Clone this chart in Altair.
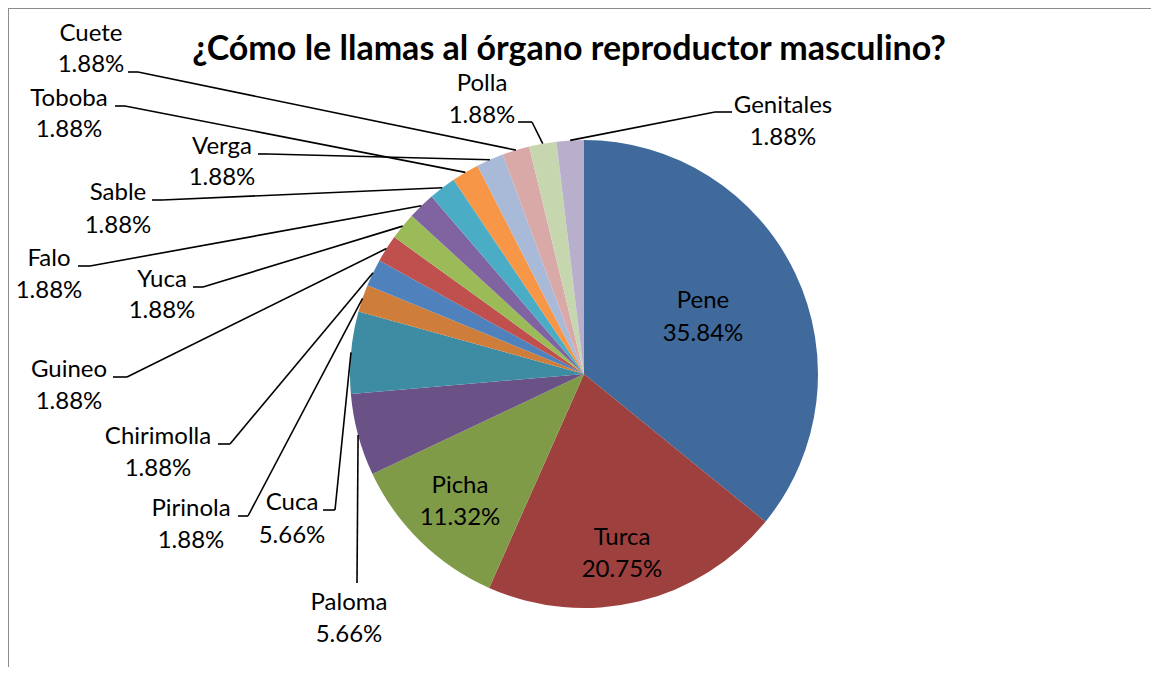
import altair as alt
import pandas as pd

# ---- data ----
names = ["Pene", "Turca", "Picha", "Paloma", "Cuca", "Pirinola", "Chirimolla",
         "Guineo", "Yuca", "Falo", "Sable", "Toboba", "Verga", "Cuete",
         "Polla", "Genitales"]
percents = [35.84, 20.75, 11.32, 5.66, 5.66, 1.88, 1.88, 1.88, 1.88, 1.88,
            1.88, 1.88, 1.88, 1.88, 1.88, 1.88]
title_text = "¿Cómo le llamas al órgano reproductor masculino?"

# ---- styles ----
colors = ["#416A9C", "#9D403E", "#7F9B48", "#6A5287", "#3E8CA3", "#CE7D3A",
          "#4F81BD", "#C0504D", "#9BBB59", "#8064A2", "#4BACC6", "#F79646",
          "#A9B9D8", "#D9A9A8", "#C6D7B0", "#B8AFCC"]
FONT = "Lato"
LABEL_SIZE = 24
TITLE_SIZE = 34

# ---- layout (page pixels) ----
M = 8                      # page margin
CX, CY, R = 584, 374, 234  # pie centre and radius
# label centre x, name baseline y, percent baseline y
label_pos = [
    (703, 308, 341), (622, 545, 577), (460, 493, 525), (349, 610, 642),
    (292, 510, 543), (191, 516, 548), (158, 444, 476), (69, 377, 409),
    (162, 287, 318), (49, 266, 298), (118, 200, 233), (69, 106, 137),
    (222, 154, 185), (91, 41, 72), (482, 91, 123), (783, 113, 145),
]
# leader line: attach point at the label, elbow point (None = no leader)
leader = [
    None, None, None,
    ((357, 583), (357, 583)),
    ((323, 510), (335, 510)),
    ((238, 516), (248, 516)),
    ((218, 444), (230, 444)),
    ((113, 377), (127, 377)),
    ((193, 287), (203, 287)),
    ((78, 266), (90, 266)),
    ((152, 200), (162, 200)),
    ((115, 106), (125, 106)),
    ((258, 154), (268, 154)),
    ((128, 72), (138, 72)),
    ((518, 122), (532, 122)),
    ((732, 112), (715, 112)),
]

rows = []
for i, (n, v) in enumerate(zip(names, percents)):
    lx, ly, py = label_pos[i]
    row = dict(name=n, value=v, order=i, lx=lx - M, ly=ly - M, py=py - M)
    if leader[i] is not None:
        (ax, ay), (ex, ey) = leader[i]
        row.update(ax=ax - M, ay=ay - M, ex=ex - M, ey=ey - M)
    rows.append(row)
df = pd.DataFrame(rows)

W, H = 1159 - 2 * M, 675 - 2 * M
cx, cy = CX - M, CY - M

color_scale = alt.Scale(domain=names, range=colors)

base = alt.Chart(df)

pie = base.mark_arc(radius=R).encode(
    theta=alt.Theta("value:Q", stack=True),
    order=alt.Order("order:Q"),
    color=alt.Color("name:N", scale=color_scale, legend=None),
    x=alt.value(cx),
    y=alt.value(cy),
)

geo = base.transform_joinaggregate(total="sum(value)").transform_window(
    cum="sum(value)", sort=[alt.SortField("order")], frame=[None, 0]
).transform_calculate(
    mid="(datum.cum - datum.value / 2) / datum.total * 2 * PI",
).transform_calculate(
    edge_x=f"{cx} + {R} * sin(datum.mid)",
    edge_y=f"{cy} - {R} * cos(datum.mid)",
).transform_filter("isValid(datum.ex)")

lead1 = geo.mark_rule(color="black", strokeWidth=1.6).encode(
    x=alt.X("edge_x:Q", scale=None, axis=None),
    y=alt.Y("edge_y:Q", scale=None, axis=None),
    x2="ex:Q",
    y2="ey:Q",
)
lead2 = geo.mark_rule(color="black", strokeWidth=1.6).encode(
    x=alt.X("ex:Q", scale=None, axis=None),
    y=alt.Y("ey:Q", scale=None, axis=None),
    x2="ax:Q",
    y2="ay:Q",
)

name_text = base.mark_text(font=FONT, fontSize=LABEL_SIZE, align="center",
                           baseline="alphabetic", color="black").encode(
    x=alt.X("lx:Q", scale=None, axis=None),
    y=alt.Y("ly:Q", scale=None, axis=None),
    text="name:N",
)
pct_text = base.transform_calculate(
    pct="format(datum.value, '.2f') + '%'"
).mark_text(font=FONT, fontSize=LABEL_SIZE, align="center",
            baseline="alphabetic", color="black").encode(
    x=alt.X("lx:Q", scale=None, axis=None),
    y=alt.Y("py:Q", scale=None, axis=None),
    text="pct:N",
)

title = base.transform_filter("datum.order == 0").mark_text(
    font=FONT, fontSize=TITLE_SIZE, fontWeight="bold", align="center",
    baseline="alphabetic", color="black", text=title_text,
).encode(x=alt.value(569 - M), y=alt.value(60 - M))

border_left = base.transform_filter("datum.order == 0").mark_rule(
    color="#8c8c8c", strokeWidth=2).encode(
    x=alt.value(0), y=alt.value(0), y2=alt.value(H))
border_top = base.transform_filter("datum.order == 0").mark_rule(
    color="#8c8c8c", strokeWidth=2).encode(
    x=alt.value(0), x2=alt.value(W), y=alt.value(0))

chart = alt.layer(
    pie, lead1, lead2, name_text, pct_text, title, border_left, border_top
).properties(width=W, height=H, padding=0, autosize="none",
             background="white").configure_view(stroke=None)

chart.save("out.html", embed_options={"renderer": "svg", "actions": False})
